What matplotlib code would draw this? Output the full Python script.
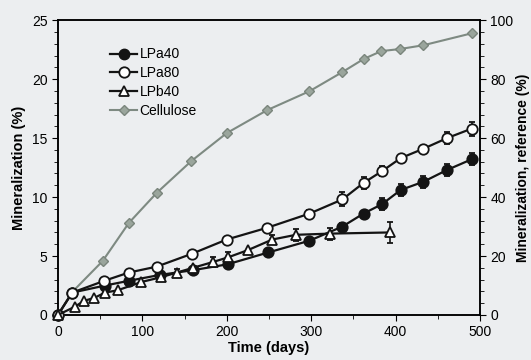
import matplotlib
matplotlib.use("Agg")
import matplotlib.pyplot as plt
import matplotlib.ticker as ticker
from matplotlib.lines import Line2D

# ── Data ──────────────────────────────────────────────────────────────────────
days_lpa40 = [0, 17, 56, 84, 121, 160, 201, 249, 298, 337, 362, 384, 406, 433, 461, 490]
min_lpa40 = [0, 1.9, 2.5, 2.9, 3.4, 3.8, 4.3, 5.3, 6.3, 7.5, 8.6, 9.4, 10.6, 11.3, 12.3, 13.2]
err_lpa40 = [0, 0, 0, 0, 0, 0, 0, 0, 0, 0.3, 0.2, 0.5, 0.5, 0.5, 0.5, 0.5]

days_lpa80 = [0, 17, 55, 84, 117, 159, 200, 248, 298, 337, 362, 384, 406, 433, 461, 490]
min_lpa80 = [0, 1.9, 2.9, 3.6, 4.1, 5.2, 6.4, 7.4, 8.6, 9.8, 11.2, 12.2, 13.3, 14.1, 15.0, 15.8]
err_lpa80 = [0, 0, 0, 0, 0, 0, 0, 0, 0.3, 0.6, 0.5, 0.4, 0, 0, 0.5, 0.6]

days_lpb40 = [0, 20, 31, 43, 56, 71, 99, 122, 141, 160, 184, 202, 225, 254, 282, 322, 393]
min_lpb40 = [0, 0.7, 1.2, 1.45, 1.9, 2.1, 2.8, 3.2, 3.6, 4.0, 4.5, 4.9, 5.5, 6.4, 6.8, 6.9, 7.0]
err_lpb40 = [0, 0, 0, 0, 0, 0, 0, 0, 0.3, 0, 0.4, 0.4, 0, 0.4, 0.5, 0.5, 0.9]

days_cell = [0, 17, 53, 84, 117, 158, 200, 248, 298, 337, 362, 383, 405, 433, 491]
min_cell = [0, 7.8, 18.3, 31.2, 41.4, 52.2, 61.7, 69.5, 75.9, 82.4, 86.8, 89.5, 90.2, 91.5, 95.6]

# ── Style ─────────────────────────────────────────────────────────────────────
BG = "#eceef0"
INK = "#141414"
GREY = "#7e8a82"

plt.rcParams.update({
    "font.family": "Liberation Sans",
    "font.size": 10,
    "axes.linewidth": 1.1,
    "xtick.major.size": 4,
    "ytick.major.size": 4,
    "xtick.minor.size": 3,
    "ytick.minor.size": 3,
})

fig = plt.figure(figsize=(5.31, 3.6), dpi=100, facecolor=BG)
ax = fig.add_axes([0.109, 0.125, 0.795, 0.819], facecolor=BG)

common = dict(color=INK, linewidth=1.6, markersize=7.5, markeredgewidth=1.3,
              capsize=2.5, elinewidth=1.2, capthick=1.2, clip_on=False, zorder=3)
ax.errorbar(days_lpa40, min_lpa40, yerr=err_lpa40, marker="o", mfc=INK, mec=INK, **common)
ax.errorbar(days_lpa80, min_lpa80, yerr=err_lpa80, marker="o", mfc="white", mec=INK, **common)
ax.errorbar(days_lpb40, min_lpb40, yerr=err_lpb40, marker="^", mfc="white", mec=INK, **common)

ax.set_xlim(0, 500)
ax.set_ylim(0, 25)
ax.xaxis.set_major_locator(ticker.MultipleLocator(100))
ax.xaxis.set_minor_locator(ticker.MultipleLocator(50))
ax.yaxis.set_major_locator(ticker.MultipleLocator(5))
ax.yaxis.set_minor_locator(ticker.MultipleLocator(1))
ax.set_xlabel("Time (days)", fontweight="bold", fontsize=10.5, labelpad=1)
ax.set_ylabel("Mineralization (%)", fontweight="bold", fontsize=10.5, labelpad=4)

ax2 = ax.twinx()
ax2.plot(days_cell, min_cell, color=GREY, linewidth=1.5, marker="D", markersize=5.5,
         mfc="#9aa59c", mec="#7a857c", clip_on=False, zorder=2)
ax2.set_ylim(0, 100)
ax2.yaxis.set_major_locator(ticker.MultipleLocator(20))
ax2.yaxis.set_minor_locator(ticker.MultipleLocator(4))
ax2.set_ylabel("Mineralization, reference (%)", fontweight="bold", fontsize=10, labelpad=2)

# put the black series above the grey one
ax.set_zorder(ax2.get_zorder() + 1)
ax.patch.set_visible(False)
ax2.patch.set_facecolor(BG)

handles = [
    Line2D([], [], color=INK, lw=1.6, marker="o", ms=7.5, mfc=INK, mec=INK),
    Line2D([], [], color=INK, lw=1.6, marker="o", ms=7.5, mfc="white", mec=INK, mew=1.3),
    Line2D([], [], color=INK, lw=1.6, marker="^", ms=7.5, mfc="white", mec=INK, mew=1.3),
    Line2D([], [], color=GREY, lw=1.5, marker="D", ms=5.5, mfc="#9aa59c", mec="#7a857c"),
]
ax.legend(handles, ["LPa40", "LPa80", "LPb40", "Cellulose"], loc="upper left",
          bbox_to_anchor=(0.095, 0.95), frameon=False, handlelength=1.9,
          handletextpad=0.2, labelspacing=0.35, fontsize=10)

fig.savefig("out.png", dpi=100, facecolor=BG)
